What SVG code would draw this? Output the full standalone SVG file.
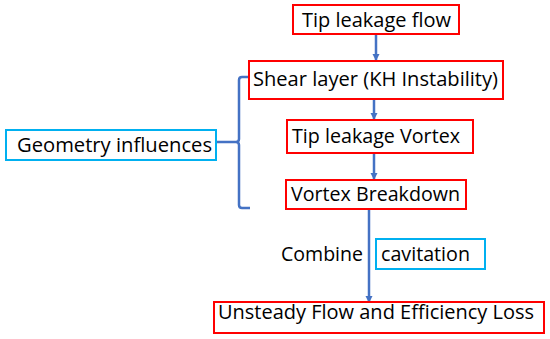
<svg xmlns="http://www.w3.org/2000/svg" width="550" height="339" viewBox="0 0 550 339">
<defs>
<marker id="ah" viewBox="0 0 10 10" refX="10" refY="5" markerWidth="3" markerHeight="3" orient="auto" markerUnits="strokeWidth">
<path d="M0,0 L10,5 L0,10 z" fill="#4472c4"/>
</marker>
<style>
.red{fill:#fff;stroke:#ff0000;stroke-width:2}
.cyan{fill:#fff;stroke:#00b0f0;stroke-width:2}
text{font-family:"Open Sans","Liberation Sans",sans-serif;font-size:20.5px;fill:#000}
.c{stroke:#4472c4;stroke-width:2.5;fill:none}
</style>
</defs>
<rect width="550" height="339" fill="#fff"/>
<g id="connectors">
<line class="c" x1="376" y1="35" x2="376" y2="61" marker-end="url(#ah)"/>
<line class="c" x1="374" y1="100" x2="374" y2="120" marker-end="url(#ah)"/>
<line class="c" x1="374" y1="154" x2="374" y2="180" marker-end="url(#ah)"/>
<line class="c" x1="369" y1="210" x2="369" y2="303" marker-end="url(#ah)"/>
<path class="c" d="M250,77 L242,77 Q239,77 239,80 L239,139 Q239,142 236,142 L216,142 M236,142 Q239,142 239,145 L239,205 Q239,208 242,208 L250,208"/>
</g>
<g id="n1"><rect class="red" x="293" y="5" width="166" height="29"/><text x="302" y="27" textLength="149" lengthAdjust="spacingAndGlyphs">Tip leakage flow</text></g>
<g id="n2"><rect class="red" x="249" y="61" width="254" height="38"/><text x="253" y="86" textLength="245" lengthAdjust="spacingAndGlyphs">Shear layer (KH Instability)</text></g>
<g id="n3"><rect class="red" x="287" y="120" width="186" height="33"/><text x="292" y="143" textLength="168" lengthAdjust="spacingAndGlyphs">Tip leakage Vortex</text></g>
<g id="n4"><rect class="red" x="286" y="180" width="180" height="29"/><text x="291" y="201" textLength="169" lengthAdjust="spacingAndGlyphs">Vortex Breakdown</text></g>
<g id="n5"><rect class="cyan" x="6" y="130" width="210" height="30"/><text x="17" y="152" textLength="195" lengthAdjust="spacingAndGlyphs">Geometry influences</text></g>
<g id="n6"><text x="281" y="261" textLength="82" lengthAdjust="spacingAndGlyphs">Combine</text></g>
<g id="n7"><rect class="cyan" x="376" y="239" width="109" height="30"/><text x="381" y="261" textLength="89" lengthAdjust="spacingAndGlyphs">cavitation</text></g>
<g id="n8"><rect class="red" x="214" y="302" width="330" height="31"/><text x="218" y="319" textLength="316" lengthAdjust="spacingAndGlyphs">Unsteady Flow and Efficiency Loss</text></g>
</svg>
